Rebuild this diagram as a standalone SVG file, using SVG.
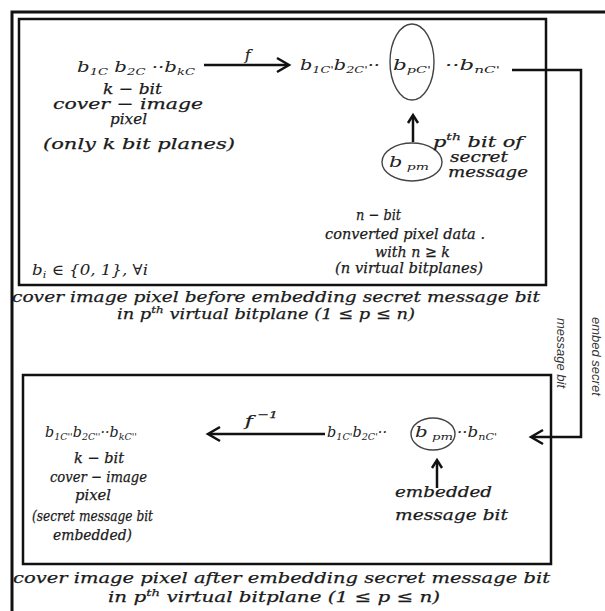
<svg xmlns="http://www.w3.org/2000/svg" width="605" height="611" viewBox="0 0 605 611">
<style>
.t{font-family:"DejaVu Serif","Liberation Serif",serif;font-style:italic;font-size:15px;fill:#1a1a1a;stroke:#1a1a1a;stroke-width:0.25}
.m{font-family:"DejaVu Serif","Liberation Serif",serif;font-style:italic;font-size:15px;fill:#222}
.s{font-size:10px}
.box{fill:none;stroke:#111;stroke-width:2.5}
.ln{fill:none;stroke:#111;stroke-width:2.5}
.hd{fill:none;stroke:#111;stroke-width:2.5;stroke-linejoin:miter}
.ell{fill:none;stroke:#444;stroke-width:1.4}
.rot{font-family:"Liberation Sans",Arial,sans-serif;font-style:italic;font-size:13px;fill:#333}
</style>
<rect width="605" height="611" fill="#fff"/>
<path d="M12,611 V12 H605" fill="none" stroke="#111" stroke-width="3"/>

<g id="top-box">
<rect class="box" x="19" y="19" width="527" height="266"/>
</g>

<g id="cover-pixel-top">
<text class="m" x="77" y="72" textLength="118" lengthAdjust="spacingAndGlyphs">b<tspan class="s" dy="3">1C</tspan><tspan dy="-3"> b</tspan><tspan class="s" dy="3">2C</tspan><tspan dy="-3"> ··b</tspan><tspan class="s" dy="3">kC</tspan></text>
<text class="t" x="103" y="94" textLength="59" lengthAdjust="spacingAndGlyphs">k − bit</text>
<text class="t" x="53" y="109" textLength="150" lengthAdjust="spacingAndGlyphs">cover − image</text>
<text class="t" x="110" y="124" textLength="37" lengthAdjust="spacingAndGlyphs">pixel</text>
<text class="t" x="43" y="149" textLength="192" lengthAdjust="spacingAndGlyphs">(only k bit planes)</text>
</g>

<g id="f-label">
<text class="t" x="245" y="60">f</text>
</g>

<g id="converted-top">
<text class="m" x="300" y="70" textLength="80" lengthAdjust="spacingAndGlyphs">b<tspan class="s" dy="3">1C'</tspan><tspan dy="-3">b</tspan><tspan class="s" dy="3">2C'</tspan><tspan dy="-3">··</tspan></text>
<ellipse class="ell" cx="412" cy="62" rx="22" ry="38"/>
<text class="m" x="393" y="70" textLength="38" lengthAdjust="spacingAndGlyphs">b<tspan class="s" dy="3">pC'</tspan></text>
<text class="m" x="445" y="70" textLength="55" lengthAdjust="spacingAndGlyphs">··b<tspan class="s" dy="3">nC'</tspan></text>
</g>

<g id="secret-bit">
<ellipse class="ell" cx="412" cy="162" rx="30" ry="19"/>
<text class="m" x="389" y="167" textLength="40" lengthAdjust="spacingAndGlyphs">b<tspan class="s" dy="3"> pm</tspan></text>
<text class="t" x="433" y="147" textLength="90" lengthAdjust="spacingAndGlyphs">p<tspan class="s" dy="-7">th</tspan><tspan dy="7"> bit of</tspan></text>
<text class="t" x="450" y="162" textLength="58" lengthAdjust="spacingAndGlyphs">secret</text>
<text class="t" x="448" y="177" textLength="80" lengthAdjust="spacingAndGlyphs">message</text>
</g>

<g id="converted-desc">
<text class="t" x="356" y="220" textLength="45" lengthAdjust="spacingAndGlyphs">n − bit</text>
<text class="t" x="325" y="239" textLength="160" lengthAdjust="spacingAndGlyphs">converted pixel data .</text>
<text class="t" x="375" y="257" textLength="75" lengthAdjust="spacingAndGlyphs">with n ≥ k</text>
<text class="t" x="335" y="273" textLength="148" lengthAdjust="spacingAndGlyphs">(n virtual bitplanes)</text>
</g>

<g id="bi-def">
<text class="m" x="32" y="275" textLength="116" lengthAdjust="spacingAndGlyphs">b<tspan class="s" dy="3">i</tspan><tspan dy="-3"> ∈ {0, 1}, ∀i</tspan></text>
</g>

<g id="caption-top">
<text class="t" x="12" y="302" textLength="528" lengthAdjust="spacingAndGlyphs">cover image pixel before embedding secret message bit</text>
<text class="t" x="117" y="319" textLength="298" lengthAdjust="spacingAndGlyphs">in p<tspan class="s" dy="-6">th</tspan><tspan dy="6"> virtual bitplane (1 ≤ p ≤ n)</tspan></text>
</g>

<g id="side-label">
<text class="rot" transform="translate(592,317) rotate(90)">embed secret</text>
<text class="rot" transform="translate(557,318) rotate(90)">message bit</text>
</g>

<g id="bottom-box">
<rect class="box" x="23" y="375" width="528" height="189"/>
</g>

<g id="cover-pixel-bottom">
<text class="m" x="45" y="437" textLength="92" lengthAdjust="spacingAndGlyphs">b<tspan class="s" dy="3">1C''</tspan><tspan dy="-3">b</tspan><tspan class="s" dy="3">2C''</tspan><tspan dy="-3">··b</tspan><tspan class="s" dy="3">kC''</tspan></text>
<text class="t" x="74" y="463" textLength="50" lengthAdjust="spacingAndGlyphs">k − bit</text>
<text class="t" x="50" y="482" textLength="97" lengthAdjust="spacingAndGlyphs">cover − image</text>
<text class="t" x="75" y="500" textLength="36" lengthAdjust="spacingAndGlyphs">pixel</text>
<text class="t" x="32" y="521" textLength="121" lengthAdjust="spacingAndGlyphs">(secret message bit</text>
<text class="t" x="53" y="540" textLength="79" lengthAdjust="spacingAndGlyphs">embedded)</text>
</g>

<g id="finv-label">
<text class="t" x="245" y="426" textLength="33" lengthAdjust="spacingAndGlyphs">f<tspan class="s" dy="-8"> −1</tspan></text>
</g>

<g id="converted-bottom">
<text class="m" x="327" y="437" textLength="60" lengthAdjust="spacingAndGlyphs">b<tspan class="s" dy="3">1C'</tspan><tspan dy="-3">b</tspan><tspan class="s" dy="3">2C'</tspan><tspan dy="-3">··</tspan></text>
<ellipse class="ell" cx="433" cy="434" rx="22" ry="16"/>
<text class="m" x="415" y="437" textLength="38" lengthAdjust="spacingAndGlyphs">b<tspan class="s" dy="3"> pm</tspan></text>
<text class="m" x="457" y="437" textLength="40" lengthAdjust="spacingAndGlyphs">··b<tspan class="s" dy="3">nC'</tspan></text>
<text class="t" x="395" y="497" textLength="97" lengthAdjust="spacingAndGlyphs">embedded</text>
<text class="t" x="395" y="520" textLength="113" lengthAdjust="spacingAndGlyphs">message bit</text>
</g>

<g id="caption-bottom">
<text class="t" x="13" y="583" textLength="537" lengthAdjust="spacingAndGlyphs">cover image pixel after embedding secret message bit</text>
<text class="t" x="108" y="602" textLength="332" lengthAdjust="spacingAndGlyphs">in p<tspan class="s" dy="-6">th</tspan><tspan dy="6"> virtual bitplane (1 ≤ p ≤ n)</tspan></text>
</g>

<g id="connectors">
<path class="ln" d="M204,65 H288"/>
<path class="hd" d="M277,58 L289,65 L277,72"/>
<path class="ln" d="M413,142 V116"/>
<path class="hd" d="M408,123 L413,115 L418,123"/>
<path class="ln" d="M512,70 H581 V437 H532"/>
<path class="hd" d="M543,430 L531,437 L543,444"/>
<path class="ln" d="M325,434 H209"/>
<path class="hd" d="M220,427 L208,434 L220,441"/>
<path class="ln" d="M437,488 V461"/>
<path class="hd" d="M432,468 L437,460 L442,468"/>
</g>
</svg>
